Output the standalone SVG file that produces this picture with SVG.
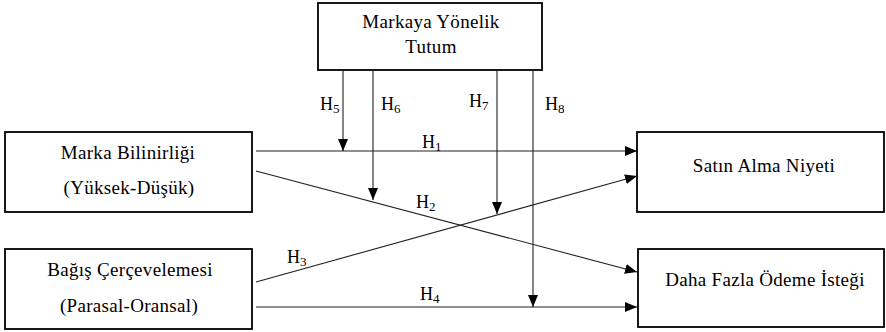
<svg xmlns="http://www.w3.org/2000/svg" width="886" height="332" viewBox="0 0 886 332">
  <style>
    .box { fill: #fff; stroke: #000; stroke-width: 1.8; }
    .lbl { font-family: "Liberation Serif", "Times New Roman", serif; font-size: 19px; letter-spacing: 0.3px; fill: #000; text-anchor: middle; }
    .h { font-family: "Liberation Serif", "Times New Roman", serif; font-size: 18px; fill: #000; }
    .sub { font-size: 13px; }
    .edge { stroke: #222; stroke-width: 1.1; fill: none; marker-end: url(#arr); }
  </style>
  <defs>
    <marker id="arr" viewBox="0 0 12 10" refX="12" refY="5" markerWidth="12" markerHeight="10" markerUnits="userSpaceOnUse" orient="auto">
      <path d="M0,0 L12,5 L0,10 Z" fill="#000"/>
    </marker>
  </defs>
  <rect width="886" height="332" fill="#fff"/>

  <g id="connectors">
    <line class="edge" x1="256" y1="151" x2="637" y2="151"/>
    <line class="edge" x1="256" y1="171" x2="637" y2="272"/>
    <line class="edge" x1="256" y1="282" x2="637" y2="176"/>
    <line class="edge" x1="256" y1="307" x2="637" y2="307"/>
    <line class="edge" x1="343" y1="71" x2="343" y2="151"/>
    <line class="edge" x1="373" y1="71" x2="373" y2="200"/>
    <line class="edge" x1="497" y1="71" x2="497" y2="214"/>
    <line class="edge" x1="533" y1="71" x2="533" y2="307"/>
    <text class="h" x="422" y="148">H<tspan class="sub" dy="3">1</tspan></text>
    <text class="h" x="416" y="208">H<tspan class="sub" dy="3">2</tspan></text>
    <text class="h" x="287" y="263">H<tspan class="sub" dy="3">3</tspan></text>
    <text class="h" x="420" y="300">H<tspan class="sub" dy="3">4</tspan></text>
    <text class="h" x="320" y="110">H<tspan class="sub" dy="3">5</tspan></text>
    <text class="h" x="381" y="110">H<tspan class="sub" dy="3">6</tspan></text>
    <text class="h" x="469" y="107">H<tspan class="sub" dy="3">7</tspan></text>
    <text class="h" x="545" y="110">H<tspan class="sub" dy="3">8</tspan></text>
  </g>

  <g id="markaya-yonelik-tutum">
    <rect class="box" x="318" y="3" width="224" height="67"/>
    <text class="lbl" x="431" y="28">Markaya Yönelik</text>
    <text class="lbl" x="431" y="53">Tutum</text>
  </g>

  <g id="marka-bilinirligi">
    <rect class="box" x="5" y="132" width="247" height="80"/>
    <text class="lbl" x="128" y="159">Marka Bilinirliği</text>
    <text class="lbl" x="129" y="194">(Yüksek-Düşük)</text>
  </g>

  <g id="bagis-cercevelemesi">
    <rect class="box" x="5" y="249" width="247" height="80"/>
    <text class="lbl" x="130" y="276">Bağış Çerçevelemesi</text>
    <text class="lbl" x="129" y="312">(Parasal-Oransal)</text>
  </g>

  <g id="satin-alma-niyeti">
    <rect class="box" x="637" y="132" width="247" height="80"/>
    <text class="lbl" x="764" y="172">Satın Alma Niyeti</text>
  </g>

  <g id="daha-fazla-odeme-istegi">
    <rect class="box" x="638" y="249" width="246" height="78"/>
    <text class="lbl" x="765" y="286">Daha Fazla Ödeme İsteği</text>
  </g>
</svg>
